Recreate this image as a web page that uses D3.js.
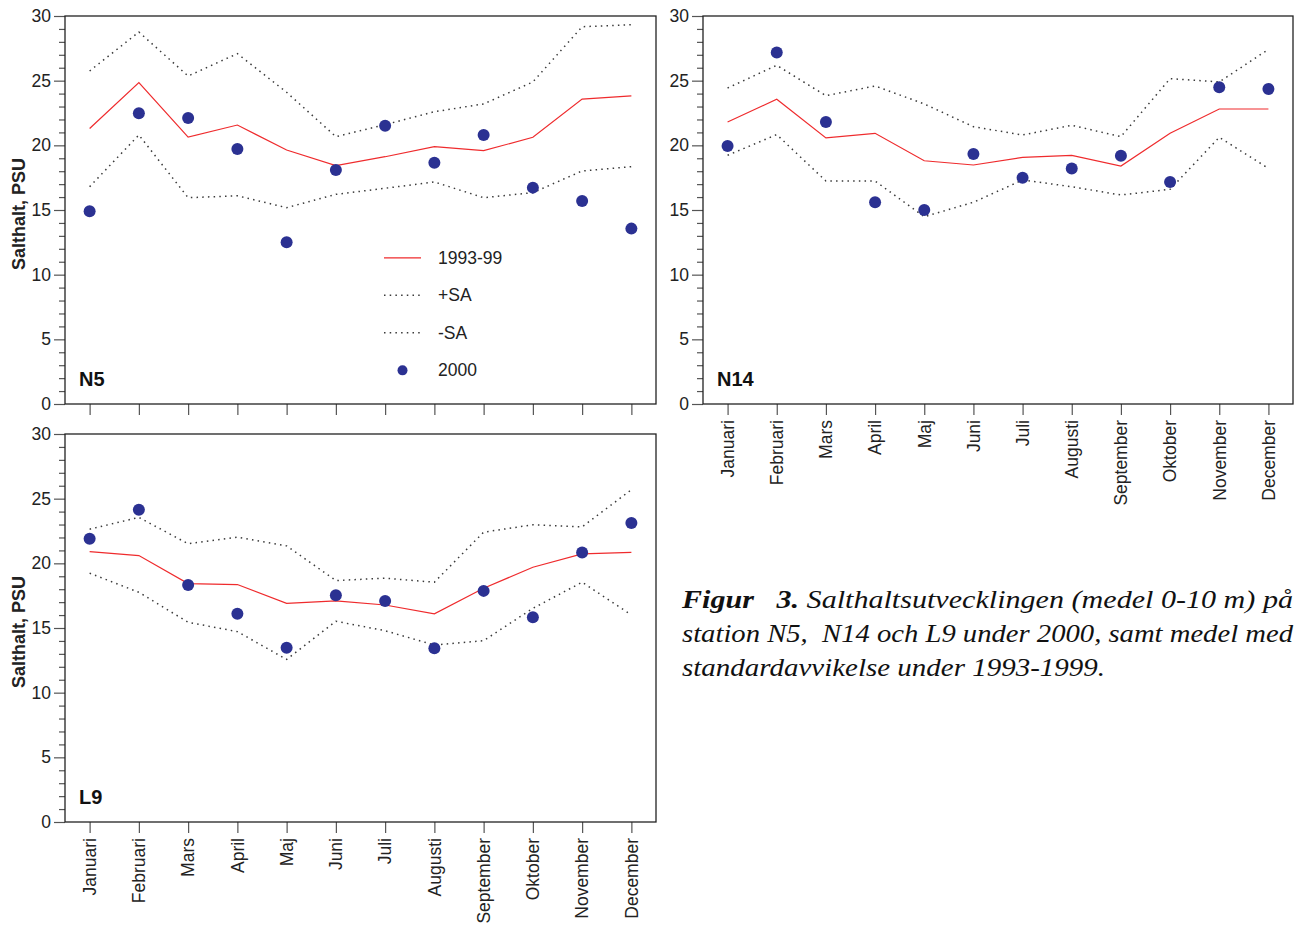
<!DOCTYPE html>
<html>
<head>
<meta charset="utf-8">
<script src="https://cdn.jsdelivr.net/npm/d3@7"></script>
<style>
  body { margin: 0; background: #fff; }
  svg { display: block; }
  .sans { font-family: Arial, "Liberation Sans", Helvetica, sans-serif; }
</style>
</head>
<body>
<svg id="chart" width="1294" height="928"></svg>
<script>
const months = ["Januari", "Februari", "Mars", "April", "Maj", "Juni", "Juli",
  "Augusti", "September", "Oktober", "November", "December"]

// N5
const n5Mean = [21.3, 24.85, 20.64, 21.57, 19.64, 18.43, 19.12, 19.9, 19.59, 20.62, 23.58, 23.82]
const n5Plus = [25.75, 28.76, 25.36, 27.09, 24.1, 20.67, 21.6, 22.6, 23.2, 24.9, 29.17, 29.33]
const n5Minus = [16.8, 20.8, 15.95, 16.1, 15.18, 16.21, 16.68, 17.17, 15.95, 16.34, 18.02, 18.35]
const n5Y2000 = [14.9, 22.48, 22.11, 19.72, 12.5, 18.09, 21.52, 18.66, 20.8, 16.73, 15.7, 13.56]

// N14
const n14Mean = [21.8, 23.56, 20.57, 20.93, 18.81, 18.48, 19.07, 19.23, 18.4, 20.93, 22.81, 22.81]
const n14Plus = [24.43, 26.19, 23.84, 24.59, 23.2, 21.44, 20.8, 21.55, 20.67, 25.16, 24.9, 27.42]
const n14Minus = [19.23, 20.83, 17.24, 17.24, 14.48, 15.6, 17.32, 16.8, 16.16, 16.6, 20.62, 18.22]
const n14Y2000 = [19.95, 27.17, 21.8, 15.6, 15.0, 19.33, 17.5, 18.2, 19.2, 17.17, 24.49, 24.36]

// L9
const l9Mean = [20.91, 20.6, 18.43, 18.36, 16.91, 17.09, 16.78, 16.09, 18.07, 19.7, 20.73, 20.84]
const l9Plus = [22.64, 23.55, 21.51, 22.02, 21.35, 18.67, 18.85, 18.54, 22.41, 22.98, 22.82, 25.69]
const l9Minus = [19.24, 17.76, 15.44, 14.72, 12.57, 15.52, 14.79, 13.68, 14.02, 16.52, 18.54, 16.01]
const l9Y2000 = [21.9, 24.14, 18.33, 16.11, 13.48, 17.53, 17.09, 13.43, 17.87, 15.83, 20.84, 23.11]

const yDomain = [0, 30]
const yMajorTicks = [0, 5, 10, 15, 20, 25, 30]
const legendLabels = ["1993-99", "+SA", "-SA", "2000"]
const yTitle = "Salthalt, PSU"
const captionLines = [
  [["Figur   3.", true], [" Salthaltsutvecklingen (medel 0-10 m) på", false]],
  [["station N5,  N14 och L9 under 2000, samt medel med", false]],
  [["standardavvikelse under 1993-1999.", false]]
]

const RED = "#ef2b2d"
const BLUE = "#2b3192"
const DOT = "#3a3a3a"
const AXIS = "#222"
const SERIF = "'Liberation Serif', 'Times New Roman', Tinos, Times, serif"

const svg = d3.select("#chart")

function drawPanel(cfg) {
  const x = d3.scalePoint().domain(months).range([cfg.left, cfg.right]).padding(0.5)
  const y = d3.scaleLinear().domain(yDomain).range([cfg.bottom, cfg.top])
  const g = svg.append("g").attr("class", "sans")

  // y axis, major ticks with labels
  const yAxis = g.append("g")
    .attr("transform", `translate(${cfg.left},0)`)
    .call(d3.axisLeft(y).tickValues(yMajorTicks).tickSize(11).tickPadding(3))
  yAxis.select(".domain").remove()
  yAxis.selectAll("line").attr("stroke", "#555").attr("stroke-width", 1.2)
  yAxis.selectAll("text").attr("fill", AXIS).style("font-size", "17.5px")
    .style("font-family", "Arial, 'Liberation Sans', sans-serif")

  // minor ticks
  const yMinor = g.append("g")
    .attr("transform", `translate(${cfg.left},0)`)
    .call(d3.axisLeft(y).tickValues(d3.range(0, 31).filter(v => v % 5 !== 0)).tickSize(6).tickFormat(""))
  yMinor.select(".domain").remove()
  yMinor.selectAll("line").attr("stroke", "#555").attr("stroke-width", 1.2)

  // x axis
  const xAxis = g.append("g")
    .attr("transform", `translate(0,${cfg.bottom})`)
    .call(d3.axisBottom(x).tickSize(11).tickFormat(""))
  xAxis.select(".domain").remove()
  xAxis.selectAll("line").attr("stroke", "#555").attr("stroke-width", 1.2)

  if (cfg.monthLabels) {
    g.selectAll("text.month")
      .data(months)
      .enter()
      .append("text")
      .attr("class", "month")
      .attr("transform", d => `translate(${x(d)},${cfg.bottom + 16}) rotate(-90)`)
      .attr("dy", "0.36em")
      .attr("text-anchor", "end")
      .attr("fill", AXIS)
      .style("font-size", "17.5px")
      .text(d => d)
  }

  // frame
  g.append("rect")
    .attr("x", cfg.left)
    .attr("y", cfg.top)
    .attr("width", cfg.right - cfg.left)
    .attr("height", cfg.bottom - cfg.top)
    .attr("fill", "none")
    .attr("stroke", AXIS)
    .attr("stroke-width", 1.3)

  const line = d3.line().x((d, i) => x(months[i])).y(d => y(d))

  g.append("path").datum(cfg.plus)
    .attr("d", line).attr("fill", "none")
    .attr("stroke", DOT).attr("stroke-width", 1.5).attr("stroke-dasharray", "1.5,4.2")
  g.append("path").datum(cfg.minus)
    .attr("d", line).attr("fill", "none")
    .attr("stroke", DOT).attr("stroke-width", 1.5).attr("stroke-dasharray", "1.5,4.2")
  g.append("path").datum(cfg.mean)
    .attr("d", line).attr("fill", "none")
    .attr("stroke", RED).attr("stroke-width", 1.2)

  g.selectAll("circle.obs")
    .data(cfg.obs)
    .enter()
    .append("circle")
    .attr("class", "obs")
    .attr("cx", (d, i) => x(months[i]))
    .attr("cy", d => y(d))
    .attr("r", 6)
    .attr("fill", BLUE)

  // station name
  g.append("text")
    .attr("x", cfg.left + 14)
    .attr("y", cfg.bottom - 18)
    .attr("fill", "#111")
    .style("font-size", "20px")
    .style("font-weight", "bold")
    .text(cfg.name)

  if (cfg.yTitle) {
    g.append("text")
      .attr("transform", `translate(25,${(cfg.top + cfg.bottom) / 2 + 4}) rotate(-90)`)
      .attr("text-anchor", "middle")
      .attr("fill", AXIS)
      .style("font-size", "18px")
      .style("font-weight", "bold")
      .text(yTitle)
  }

  if (cfg.legend) {
    const lx = cfg.left + 319
    const ly = y(11.3)
    const rowH = 37.5
    const lg = g.append("g")
    legendLabels.forEach((label, i) => {
      const yy = ly + i * rowH
      if (i === 0) {
        lg.append("line").attr("x1", lx).attr("x2", lx + 37).attr("y1", yy).attr("y2", yy)
          .attr("stroke", RED).attr("stroke-width", 1.2)
      } else if (i < 3) {
        lg.append("line").attr("x1", lx).attr("x2", lx + 36).attr("y1", yy).attr("y2", yy)
          .attr("stroke", DOT).attr("stroke-width", 1.5).attr("stroke-dasharray", "1.5,4.2")
      } else {
        lg.append("circle").attr("cx", lx + 18.5).attr("cy", yy).attr("r", 5).attr("fill", BLUE)
      }
      lg.append("text")
        .attr("x", lx + 54)
        .attr("y", yy)
        .attr("dy", "0.35em")
        .attr("fill", AXIS)
        .style("font-size", "17.5px")
        .text(label)
    })
  }
}

drawPanel({ name: "N5", left: 65, right: 656, top: 16, bottom: 404,
  mean: n5Mean, plus: n5Plus, minus: n5Minus, obs: n5Y2000, yTitle: true, legend: true })
drawPanel({ name: "N14", left: 703, right: 1293, top: 16, bottom: 404,
  mean: n14Mean, plus: n14Plus, minus: n14Minus, obs: n14Y2000, monthLabels: true })
drawPanel({ name: "L9", left: 65, right: 656, top: 434, bottom: 822,
  mean: l9Mean, plus: l9Plus, minus: l9Minus, obs: l9Y2000, yTitle: true, monthLabels: true })

// caption
const capX = 682
const capBase = [608, 642, 676]
const capWidth = [611, 611, 423]
captionLines.forEach((parts, i) => {
  const t = svg.append("text")
    .attr("x", capX)
    .attr("y", capBase[i])
    .attr("fill", "#111")
    .attr("font-family", SERIF)
    .attr("font-size", 26)
    .attr("font-style", "italic")
    .attr("xml:space", "preserve")
    .style("white-space", "pre")
  parts.forEach(([txt, bold]) => {
    t.append("tspan")
      .attr("font-family", SERIF)
      .attr("font-weight", bold ? "bold" : "normal")
      .text(txt)
  })
  t.attr("textLength", capWidth[i]).attr("lengthAdjust", "spacingAndGlyphs")
})
</script>
</body>
</html>
